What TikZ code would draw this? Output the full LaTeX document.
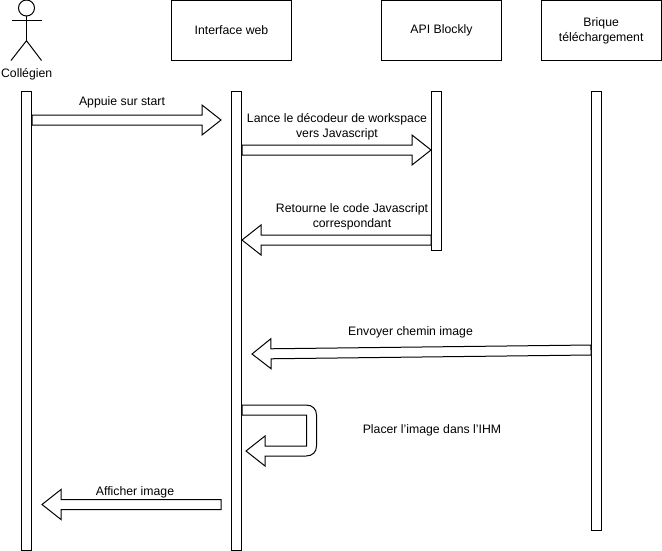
\documentclass[tikz,border=0pt]{standalone}
\usepackage{fontspec}
\setmainfont{Liberation Sans}
\usetikzlibrary{calc}
\tikzset{
  participant/.style={draw=black,fill=white,line width=0.75pt,minimum width=90pt,minimum height=45pt,inner sep=0pt,align=center,font=\fontsize{9.2}{11.25}\selectfont},
  lifeline/.style={draw=black,fill=white,line width=0.75pt,minimum width=7.5pt,inner sep=0pt},
  msg/.style={inner sep=0pt,align=center,font=\fontsize{9.2}{11.25}\selectfont},
  outlined/.style={draw=black,fill=white,line width=0.75pt,line join=miter},
  stick/.style={draw=black,line width=0.75pt}
}
\newcommand{\blockarrow}[2]{%
  \draw[outlined]
    ($(#1)!3.75pt!90:(#2)$) --
    ($($(#2)!14.25pt!(#1)$)!3.75pt!90:(#2)$) --
    ($($(#2)!14.25pt!(#1)$)!11.25pt!90:(#2)$) --
    (#2) --
    ($($(#2)!14.25pt!(#1)$)!11.25pt!-90:(#2)$) --
    ($($(#2)!14.25pt!(#1)$)!3.75pt!-90:(#2)$) --
    ($(#1)!3.75pt!-90:(#2)$) -- cycle;}
\begin{document}
\begin{tikzpicture}[x=0.75pt,y=-0.75pt]
\useasboundingbox[fill=white] (0,0) rectangle (662,551);
% participants
\node[participant] (web) at (231.5,30.5) {Interface web};
\node[participant] (api) at (441.5,30.5) {API Blockly};
\node[participant] (brique) at (601.2,30.5) {Brique\\téléchargement};
% lifelines
\node[lifeline,minimum height=344.25pt] (lA) at (26.5,320.5) {};
\node[lifeline,minimum height=344.25pt] (lB) at (236.5,320.5) {};
\node[lifeline,minimum height=119.25pt] (lC) at (436.5,170.5) {};
\node[lifeline,minimum height=329.25pt] (lD) at (596.5,310.5) {};
% actor
\draw[stick] (26.5,8) circle[radius=8];
\draw[stick] (26.5,16) -- (26.5,40.7);
\draw[stick] (11.5,20) -- (41.5,20);
\draw[stick] (11,60.5) -- (26.5,40.7) -- (41.5,60.5);
\node[msg] (actor) at (26.7,74.5) {Collégien};
% arrow end points
\coordinate (s1) at (lA.east |- 0,120);
\coordinate (e1) at (221,120);
\coordinate (s2) at (lB.east |- 0,150);
\coordinate (e2) at (lC.west |- 0,150);
\coordinate (s3) at (lC.west |- 0,240);
\coordinate (e3) at (lB.east |- 0,240);
\coordinate (s4) at (lD.west |- 0,350);
\coordinate (e4) at (252,354);
\coordinate (s6) at (221,504.5);
\coordinate (e6) at (42,504.5);
\blockarrow{s1}{e1}
\blockarrow{s2}{e2}
\blockarrow{s3}{e3}
\blockarrow{s4}{e4}
\blockarrow{s6}{e6}
% self message
\draw[outlined] (lB.east |- 0,405) -- (306,405)
  .. controls (312.5,405) and (316.5,409) .. (316.5,415)
  -- (316.5,446)
  .. controls (316.5,452) and (312.5,456) .. (306,456)
  -- (265,456) -- (265,466) -- (246,451) -- (265,436) -- (265,446)
  -- (306.5,446) -- (306.5,415) -- (lB.east |- 0,415) -- cycle;
% labels
\node[msg] (t1) at (122,102.5) {Appuie sur start};
\node[msg] (t2) at (337,126.5) {Lance le décodeur de workspace\\vers Javascript};
\node[msg] (t3) at (352,216.5) {Retourne le code Javascript\\correspondant};
\node[msg] (t4) at (410.5,332) {Envoyer chemin image};
\node[msg] (t5) at (432,430.5) {Placer l\symbol{39}image dans l\symbol{39}IHM};
\node[msg] (t6) at (135,492) {Afficher image};
\end{tikzpicture}
\end{document}
